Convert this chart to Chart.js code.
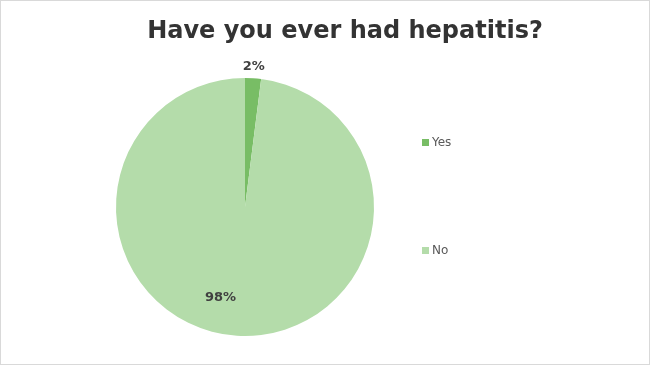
<!DOCTYPE html>
<html>
<head>
<meta charset="utf-8">
<script src="https://cdn.jsdelivr.net/npm/chart.js@4.4.1/dist/chart.umd.min.js"></script>
<style>
  html, body { margin: 0; padding: 0; background: #fff; }
  #wrap { width: 650px; height: 365px; }
</style>
</head>
<body>
<div id="wrap"><canvas id="pie" width="650" height="365"></canvas></div>
<script>
const chartTitle = 'Have you ever had hepatitis?'
const categories = ['Yes', 'No']
const answers = [2, 98]
const sliceColors = ['#78bd65', '#b4dcaa']

// border + title (title drawn here so it centres over the whole frame, not the pie)
const frame = {
  id: 'frame',
  beforeDraw(chart) {
    const ctx = chart.ctx
    ctx.save()
    ctx.strokeStyle = '#d9d9d9'
    ctx.lineWidth = 1
    ctx.strokeRect(0.5, 0.5, chart.width - 1, chart.height - 1)
    ctx.font = 'bold 24px "DejaVu Sans"'
    ctx.fillStyle = '#333333'
    ctx.textAlign = 'center'
    ctx.textBaseline = 'middle'
    ctx.fillText(chartTitle, 345, 32)
    ctx.restore()
  }
}

// percent labels + legend on the right
const pieText = {
  id: 'pieText',
  afterDraw(chart) {
    const ctx = chart.ctx
    const meta = chart.getDatasetMeta(0)
    const total = answers.reduce((a, b) => a + b, 0)
    ctx.save()
    ctx.font = 'bold 13px "DejaVu Sans"'
    ctx.fillStyle = '#404040'
    ctx.textAlign = 'center'
    ctx.textBaseline = 'middle'
    meta.data.forEach((arc, i) => {
      const p = arc.getProps(['x', 'y', 'startAngle', 'endAngle', 'outerRadius'], true)
      let mid = (p.startAngle + p.endAngle) / 2
      let r
      if (answers[i] / total < 0.1) {
        r = p.outerRadius + 12
      } else {
        r = p.outerRadius * 0.73
        mid += 0.2
      }
      const x = p.x + Math.cos(mid) * r
      const y = p.y + Math.sin(mid) * r
      ctx.fillText(Math.round(answers[i] / total * 100) + '%', x, y)
    })

    // legend
    const legendY = [143, 251]
    ctx.font = '12px "DejaVu Sans"'
    ctx.textAlign = 'left'
    categories.forEach((c, i) => {
      ctx.fillStyle = sliceColors[i]
      ctx.fillRect(422, legendY[i] - 4, 7, 7)
      ctx.fillStyle = '#595959'
      ctx.fillText(c, 432, legendY[i])
    })
    ctx.restore()
  }
}

const pieChart = new Chart(document.getElementById('pie'), {
  type: 'pie',
  data: {
    labels: categories,
    datasets: [{
      data: answers,
      backgroundColor: sliceColors,
      borderWidth: 0
    }]
  },
  options: {
    responsive: false,
    animation: false,
    layout: { padding: { left: 116, right: 276, top: 78, bottom: 29 } },
    plugins: {
      legend: { display: false },
      tooltip: { enabled: false },
      title: { display: false }
    }
  },
  plugins: [frame, pieText]
});
</script>
</body>
</html>
